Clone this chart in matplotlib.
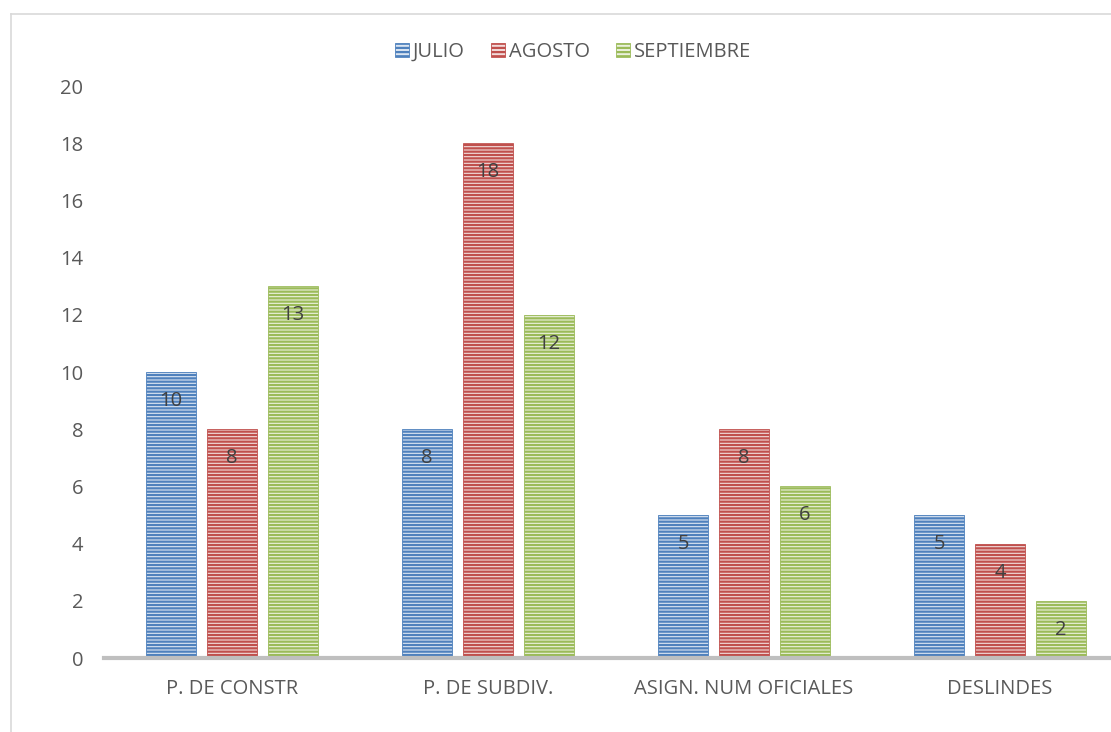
import matplotlib
matplotlib.use("Agg")
import matplotlib.pyplot as plt
from matplotlib.patches import Patch
from matplotlib.lines import Line2D
import numpy as np

categories = ["P. DE CONSTR", "P. DE SUBDIV.", "ASIGN. NUM OFICIALES", "DESLINDES"]
series_names = ["JULIO", "AGOSTO", "SEPTIEMBRE"]
julio = [10, 8, 5, 5]
agosto = [8, 18, 8, 4]
septiembre = [13, 12, 6, 2]
yticks = [0, 2, 4, 6, 8, 10, 12, 14, 16, 18, 20]

main_colors = ["#4F81BD", "#C0504D", "#9BBB59"]
light_colors = ["#DCE6F2", "#F2DCDB", "#EBF1DE"]

plt.rcParams['font.family'] = ['Open Sans', 'DejaVu Sans']
plt.rcParams['hatch.linewidth'] = 1.6

fig = plt.figure(figsize=(11.11, 7.32), dpi=100)
ax = fig.add_axes([104/1111, 1-658/732, 1024/1111, (658-86)/732])

x = np.arange(len(categories))
width = 0.195
step = 0.238
text_color = "#595959"
all_series = [julio, agosto, septiembre]
for i, vals in enumerate(all_series):
    pos = x + (i - 1) * step
    bars = ax.bar(pos, vals, width, facecolor=light_colors[i], edgecolor=main_colors[i],
                  hatch='-----', linewidth=0.6, zorder=2)
    for b, v in zip(bars, vals):
        ax.annotate(str(v), (b.get_x() + b.get_width() / 2, v), xytext=(0, -29),
                    textcoords='offset pixels', ha='center', va='center',
                    fontsize=14.5, color="#404040", zorder=3)

ax.set_xlim(-0.5, 3.5)
ax.set_ylim(0, 20)
ax.set_yticks(yticks)
ax.set_xticks(x)
ax.set_xticklabels(categories)
ax.tick_params(axis='both', length=0, labelsize=14.5, colors=text_color)
ax.tick_params(axis='x', pad=15)
ax.tick_params(axis='y', pad=15)
for s in ['top', 'right', 'left']:
    ax.spines[s].set_visible(False)
ax.spines['bottom'].set_color('#BFBFBF')
ax.spines['bottom'].set_linewidth(3)
ax.spines['bottom'].set_zorder(4)

handles = [Patch(facecolor=light_colors[i], edgecolor=main_colors[i], hatch='----', linewidth=0.6)
           for i in range(3)]
leg = fig.legend(handles, series_names, loc='center', bbox_to_anchor=(573/1111, 1-52/732),
                 ncol=3, frameon=False, fontsize=14.5, handlelength=0.7, handleheight=0.7,
                 handletextpad=0.2, columnspacing=1.3)
for t in leg.get_texts():
    t.set_color(text_color)

# figure border (top and left visible)
fig.add_artist(Line2D([11/1111, 11/1111], [0, 1-14/732], transform=fig.transFigure,
                      color='#D9D9D9', linewidth=1.2))
fig.add_artist(Line2D([11/1111, 1], [1-14/732, 1-14/732], transform=fig.transFigure,
                      color='#D9D9D9', linewidth=1.2))

fig.savefig("out.png", dpi=100)
